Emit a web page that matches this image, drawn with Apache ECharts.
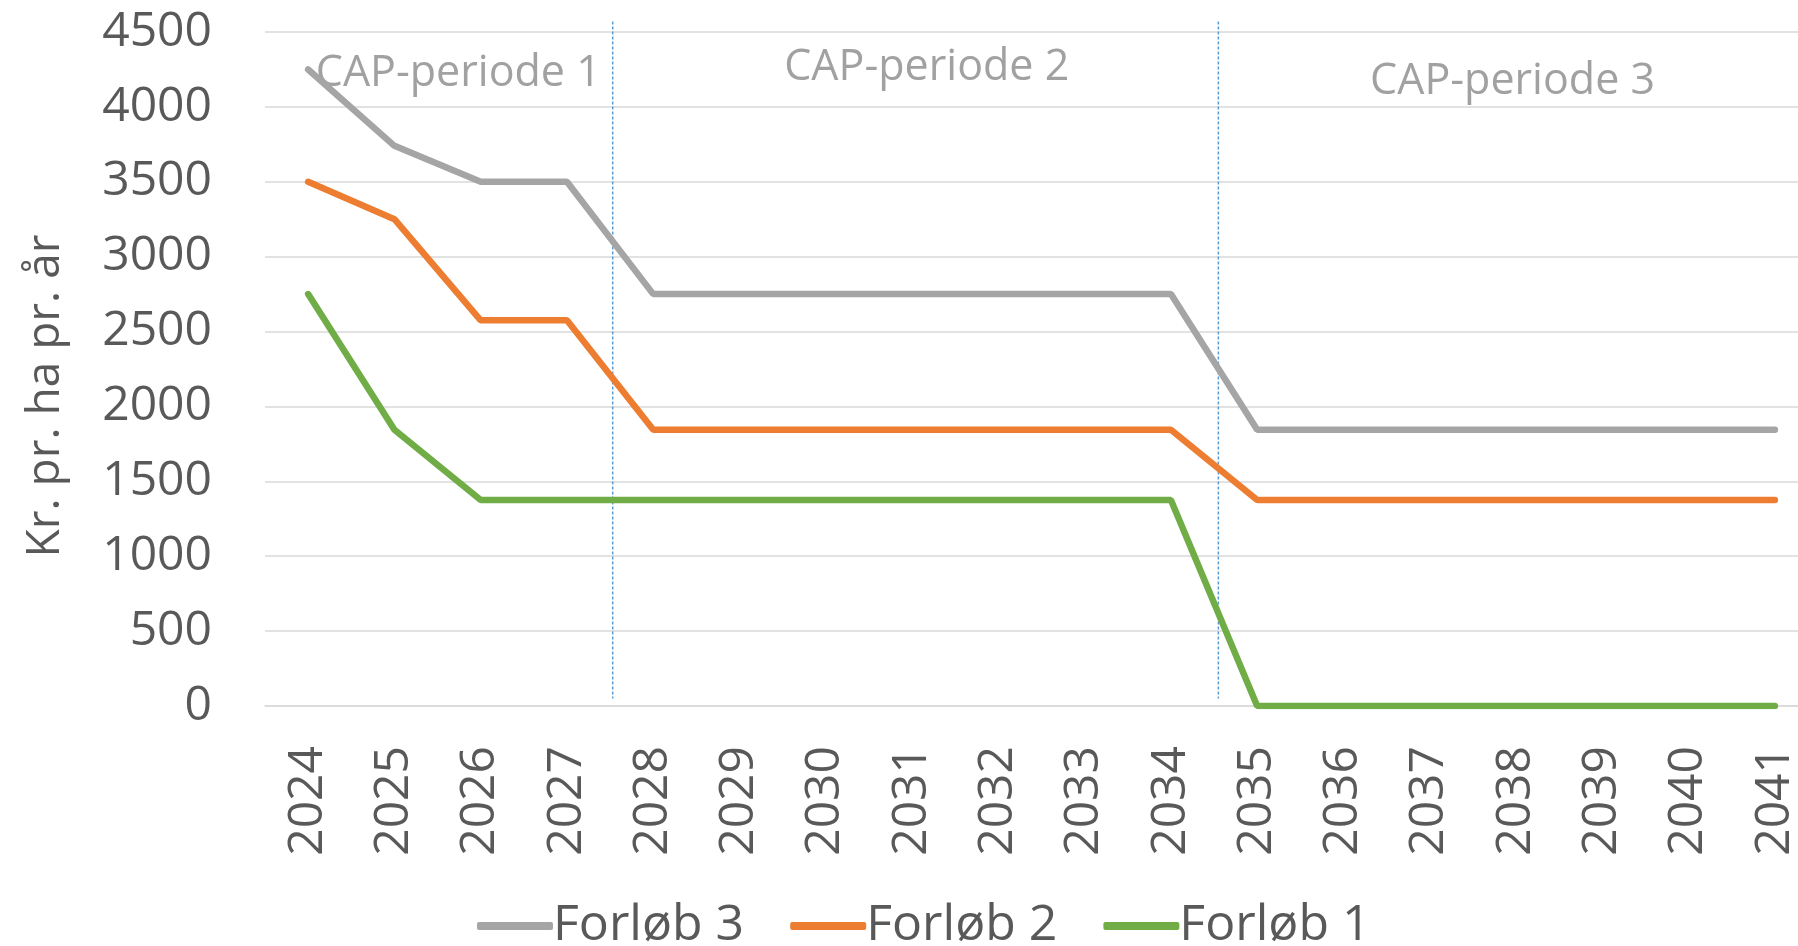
<!DOCTYPE html>
<html>
<head>
<meta charset="utf-8" />
<title>CAP-perioder</title>
<script src="https://cdn.jsdelivr.net/npm/echarts@6/dist/echarts.min.js"></script>
<style>
	html, body { margin: 0; padding: 0; background: #fff; }
	#chart { width: 1798px; height: 946px; }
</style>
<script type="text/javascript">
	// ---- data ----
	var years = ['2024','2025','2026','2027','2028','2029','2030','2031','2032','2033','2034','2035','2036','2037','2038','2039','2040','2041'];
	var forlob3 = [4250, 3740, 3500, 3500, 2750, 2750, 2750, 2750, 2750, 2750, 2750, 1845, 1845, 1845, 1845, 1845, 1845, 1845];
	var forlob2 = [3500, 3250, 2575, 2575, 1845, 1845, 1845, 1845, 1845, 1845, 1845, 1375, 1375, 1375, 1375, 1375, 1375, 1375];
	var forlob1 = [2750, 1845, 1375, 1375, 1375, 1375, 1375, 1375, 1375, 1375, 1375, 0, 0, 0, 0, 0, 0, 0];
	var yTicks = [0, 500, 1000, 1500, 2000, 2500, 3000, 3500, 4000, 4500];
	// period boundaries (in category index units) and period labels
	var periodBounds = [3.53, 10.55];
	var periodLabels = [
		{ name: 'CAP-periode 1', x: 1.74, y: 4220 },
		{ name: 'CAP-periode 2', x: 7.17, y: 4260 },
		{ name: 'CAP-periode 3', x: 13.96, y: 4170 }
	];

	window.onload = function () {
		var myChart = echarts.init(document.getElementById('chart'));
		var font = 'Open Sans';

		var series = [
			{
				name: 'Forløb 3',
				type: 'line',
				data: forlob3,
				symbol: 'none',
				lineStyle: { color: '#a5a5a5', width: 6.5, cap: 'round' },
				itemStyle: { color: '#a5a5a5' }
			},
			{
				name: 'Forløb 2',
				type: 'line',
				data: forlob2,
				symbol: 'none',
				lineStyle: { color: '#ed7d31', width: 6.5, cap: 'round' },
				itemStyle: { color: '#ed7d31' }
			},
			{
				name: 'Forløb 1',
				type: 'line',
				data: forlob1,
				symbol: 'none',
				lineStyle: { color: '#70ad47', width: 6.5, cap: 'round' },
				itemStyle: { color: '#70ad47' }
			},
			{
				name: 'perioder',
				type: 'scatter',
				xAxisIndex: 1,
				symbolSize: 0,
				clip: false,
				silent: true,
				data: periodLabels.map(function (p) { return { name: p.name, value: [p.x, p.y] }; }),
				label: {
					show: true,
					position: 'inside',
					formatter: '{b}',
					fontSize: 43,
					color: '#898989',
					fontFamily: font
				}
			}
		];

		// dashed period boundaries
		periodBounds.forEach(function (b, i) {
			series.push({
				name: 'grænse' + i,
				type: 'line',
				xAxisIndex: 1,
				data: [[b, 4570], [b, 50]],
				symbol: 'none',
				clip: false,
				silent: true,
				z: 1,
				lineStyle: { color: '#5b9bd5', width: 1.5, type: [3, 2] }
			});
		});

		var option = {
			animation: false,
			textStyle: { fontFamily: font },
			grid: { left: 265, top: 32, width: 1553, bottom: 240, containLabel: false, outerBoundsMode: 'none' },
			legend: {
				left: 472,
				top: 896,
				data: ['Forløb 3', 'Forløb 2', 'Forløb 1'],
				icon: 'roundRect',
				itemWidth: 76,
				itemHeight: 8,
				itemGap: 46,
				textStyle: { fontFamily: font, fontSize: 50, color: '#595959', padding: [0, 0, 0, -5] }
			},
			xAxis: [
				{
					type: 'category',
					data: years,
					boundaryGap: true,
					axisLine: { lineStyle: { color: '#d9d9d9', width: 1.5 } },
					axisTick: { show: false },
					axisLabel: { rotate: 90, margin: 40, fontSize: 48, color: '#595959', fontFamily: font, interval: 0 }
				},
				{
					type: 'value',
					min: -0.5,
					max: 17.5,
					show: false
				}
			],
			yAxis: {
				type: 'value',
				min: yTicks[0],
				max: yTicks[yTicks.length - 1],
				interval: 500,
				name: 'Kr. pr. ha pr. år',
				nameLocation: 'middle',
				nameGap: 196,
				nameTextStyle: { fontSize: 46, color: '#595959', fontFamily: font, padding: [0, 54, 0, 0] },
				axisLine: { show: false },
				axisTick: { show: false },
				axisLabel: {
					fontSize: 48, color: '#595959', margin: 53, fontFamily: font,
					formatter: function (v) { return String(v); }
				},
				splitLine: { lineStyle: { color: '#d9d9d9', width: 1.5 } }
			},
			series: series
		};
		myChart.setOption(option);
	};
</script>
</head>
<body>
	<div id="chart"></div>
</body>
</html>
